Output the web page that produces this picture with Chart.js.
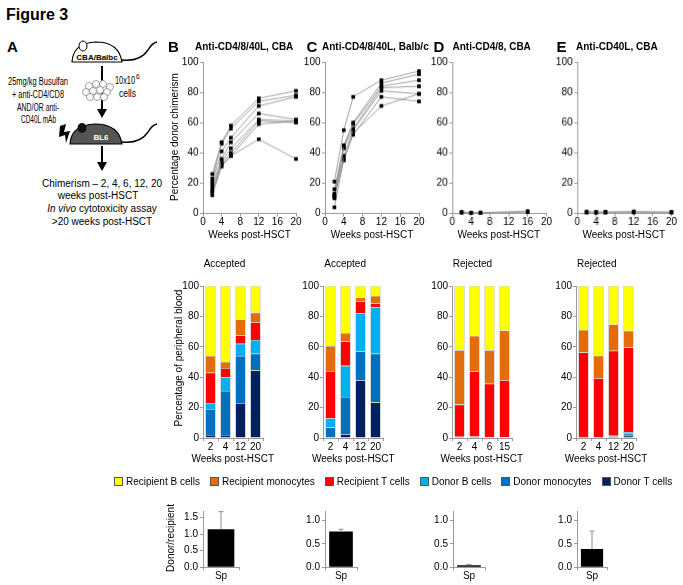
<!DOCTYPE html>
<html>
<head>
<meta charset="utf-8">
<script src="https://cdn.jsdelivr.net/npm/chart.js@4.4.1/dist/chart.umd.min.js"></script>
<style>
  body { margin: 0; width: 683px; height: 585px; background: #fff; position: relative; overflow: hidden;
         font-family: 'Liberation Sans', Arial, sans-serif; }
  .box { position: absolute; }
  .t { position: absolute; white-space: nowrap; font-size: 10px; line-height: 1; color: #000; }
  .legend { position: absolute; left: 114px; top: 476px; display: flex; gap: 10px; font-size: 10px; line-height: 12px; }
  .legend span.sw { display: inline-block; width: 7px; height: 7px; border: 1px solid #555; margin-right: 3px; vertical-align: -1px; }
</style>
</head>
<body>
<svg class="box" style="left:0;top:0" width="175" height="235" font-family="'Liberation Sans', Arial, sans-serif" font-size="10">
  <!-- donor mouse -->
  <path d="M72,62 Q73,43 96,42 Q119,42 122,62 Z" fill="#fff" stroke="#000" stroke-width="1.2"/>
  <ellipse cx="83" cy="46" rx="4" ry="5" fill="#fff" stroke="#000" stroke-width="1"/>
  <path d="M122,60 Q140,62 148,50 Q152,43 157,42" fill="none" stroke="#000" stroke-width="1.4"/>
  <text x="97" y="60" text-anchor="middle" font-size="8" font-weight="bold">CBA/Balbc</text>
  <!-- arrow 1 -->
  <line x1="102" y1="66" x2="102" y2="110" stroke="#000" stroke-width="2"/>
  <polygon points="97,109 107,109 102,118" fill="#000"/>
  <!-- cells -->
  <g fill="#fff" stroke="#888" stroke-width="0.8">
    <circle cx="89" cy="86" r="3.5"/><circle cx="96" cy="84" r="3.5"/><circle cx="103" cy="84" r="3.5"/>
    <circle cx="110" cy="87" r="3.5"/><circle cx="86" cy="92" r="3.5"/><circle cx="93" cy="91" r="3.5"/>
    <circle cx="100" cy="90" r="3.5"/><circle cx="107" cy="92" r="3.5"/><circle cx="90" cy="97" r="3.5"/>
    <circle cx="97" cy="97" r="3.5"/><circle cx="104" cy="97" r="3.5"/>
  </g>
  <text x="115" y="84" textLength="20" lengthAdjust="spacingAndGlyphs">10x10</text>
  <text x="136" y="79" font-size="6.5">6</text>
  <text x="119" y="97" textLength="17" lengthAdjust="spacingAndGlyphs">cells</text>
  <text x="8" y="85" textLength="60" lengthAdjust="spacingAndGlyphs">25mg/kg Busulfan</text>
  <text x="12" y="98" textLength="52" lengthAdjust="spacingAndGlyphs">+ anti-CD4/CD8</text>
  <text x="17" y="111" textLength="42" lengthAdjust="spacingAndGlyphs">AND/OR anti-</text>
  <text x="21" y="123" textLength="35" lengthAdjust="spacingAndGlyphs">CD40L mAb</text>
  <!-- lightning -->
  <polygon points="60,126 66,124 64,132 70,131 66,143 65,135 59,137" fill="#000"/>
  <!-- recipient mouse -->
  <path d="M70,144 Q71,125 95,124 Q119,124 122,144 Z" fill="#555" stroke="#000" stroke-width="1.2"/>
  <ellipse cx="82" cy="128" rx="4.5" ry="5" fill="#111"/>
  <path d="M122,142 Q140,144 148,132 Q152,125 157,124" fill="none" stroke="#000" stroke-width="1.4"/>
  <text x="101" y="140" text-anchor="middle" font-size="8" font-weight="bold" fill="#fff">BL6</text>
  <!-- arrow 2 -->
  <line x1="102" y1="146" x2="102" y2="163" stroke="#000" stroke-width="2"/>
  <polygon points="97,162 107,162 102,171" fill="#000"/>
  <text x="102" y="187" text-anchor="middle">Chimerism – 2, 4, 6, 12, 20</text>
  <text x="98" y="199" text-anchor="middle">weeks post-HSCT</text>
  <text x="102" y="212" text-anchor="middle"><tspan font-style="italic">In vivo</tspan> cytotoxicity assay</text>
  <text x="102" y="225" text-anchor="middle">&gt;20 weeks post-HSCT</text>
</svg>

<script>
// ---- data ----
// percentage donor chimerism, one row per mouse
const weeksB = [2, 4, 6, 12, 20];
const chimB = [
  [26, 47, 58, 76, 81],
  [23, 46, 56, 74, 78],
  [21, 41, 50, 71, 77],
  [19, 36, 47, 66, 62],
  [17, 34, 43, 62, 61],
  [15, 33, 40, 61, 60],
  [12, 31, 38, 59, 61],
  [14, 32, 38, 49, 36]
];
const weeksC = [2, 4, 6, 12, 20];
const chimC = [
  [21, 55, 77, 88, 94],
  [16, 45, 60, 86, 92],
  [13, 44, 59, 84, 88],
  [11, 43, 56, 83, 84],
  [10, 38, 55, 81, 79],
  [4, 36, 52, 77, 74],
  [12, 35, 53, 71, 79]
];
const weeksD = [2, 4, 6, 16];
const chimD = [
  [1, 0.5, 0.6, 1.5],
  [0.4, 0.3, 0.3, 0.8]
];
const weeksE = [2, 4, 6, 12, 20];
const chimE = [
  [1.2, 1, 1.1, 1.3, 1],
  [0.5, 0.4, 0.5, 0.6, 0.5]
];

// peripheral blood composition (%), rows follow cellTypes (stack bottom -> top)
const cellTypes = ['Donor T cells', 'Donor monocytes', 'Donor B cells', 'Recipient T cells', 'Recipient monocytes', 'Recipient B cells'];
const cellColors = ['#002060', '#0070c0', '#00b0f0', '#ff0000', '#e46c0a', '#ffff00'];

const timesB = ['2', '4', '12', '20'];
const compB = [
  [2, 2, 23, 44.5],
  [17, 29, 31, 11],
  [4, 9, 8, 9],
  [20, 6, 5.5, 11.5],
  [11, 4, 10.5, 6.5],
  [46, 50, 22, 17.5]
];
const timesC = ['2', '4', '12', '20'];
const compC = [
  [0, 2.5, 38, 23.5],
  [7, 24.5, 19, 32],
  [6, 20.5, 25, 30.5],
  [31, 16, 8, 2.5],
  [16.5, 5.5, 2.5, 5],
  [39.5, 31, 7.5, 6.5]
];
const timesD = ['2', '4', '6', '15'];
const compD = [
  [0.8, 1, 0.5, 0.5],
  [0, 0, 0, 0],
  [0, 0, 0, 0],
  [21.2, 42.9, 35.2, 37.5],
  [35.7, 23.2, 22, 32.8],
  [42.3, 32.9, 42.3, 29.2]
];
const timesE = ['2', '4', '12', '20'];
const compE = [
  [0, 0, 1, 1.5],
  [0, 0, 0.5, 1.3],
  [0, 0, 0, 1.1],
  [56.3, 39.3, 55.9, 55.7],
  [14.9, 14.8, 17.3, 10.9],
  [28.8, 45.9, 25.3, 29.5]
];

// donor/recipient ratio in spleen, panels B..E
const ratioLabel = ['Sp'];
const ratioMean = [1.15, 0.76, 0.04, 0.39];
const ratioSD = [0.53, 0.05, 0.02, 0.38];
const ratioMax = [1.7, 1.2, 1.2, 1.2];
const ratioTicks = [[0, 0.5, 1, 1.5], [0, 0.5, 1], [0, 0.5, 1], [0, 0.5, 1]];

// ---- setup ----
const FONT = "'Liberation Sans', Arial, sans-serif";
Chart.defaults.font.family = FONT;
Chart.defaults.font.size = 10;
Chart.defaults.color = '#000';
Chart.defaults.animation = false;
Chart.defaults.plugins.legend.display = false;
Chart.defaults.plugins.tooltip.enabled = false;

const AXIS = '#9a9a9a';

function axis(extra, tickExtra) {
  return Object.assign({
    grid: { drawOnChartArea: false, tickLength: 3, color: AXIS },
    border: { color: AXIS },
    ticks: Object.assign({ padding: 2, color: '#000', font: { size: 10 }, autoSkip: false, maxRotation: 0, minRotation: 0 }, tickExtra || {})
  }, extra);
}

// place a chart so that its plot area lands on [x0, y0, x1, y1] of the page
function mount(area, config, pad) {
  const p = Object.assign({ l: 30, t: 8, r: 10, b: 20 }, pad || {});
  const [x0, y0, x1, y1] = area;
  const wrap = document.createElement('div');
  wrap.className = 'box';
  wrap.style.left = (x0 - p.l) + 'px';
  wrap.style.top = (y0 - p.t) + 'px';
  wrap.style.width = (x1 - x0 + p.l + p.r) + 'px';
  wrap.style.height = (y1 - y0 + p.t + p.b) + 'px';
  const cv = document.createElement('canvas');
  wrap.appendChild(cv);
  document.body.appendChild(wrap);
  const o = config.options;
  o.responsive = true;
  o.maintainAspectRatio = false;
  o.layout = { autoPadding: false, padding: { top: p.t, right: p.r, left: 0, bottom: 0 } };
  o.scales.x.afterFit = s => { s.height = p.b; };
  o.scales.y.afterFit = s => { s.width = p.l; };
  return new Chart(cv, config);
}

function text(str, x, y, css) {
  const d = document.createElement('div');
  d.className = 't';
  d.textContent = str;
  d.style.left = x + 'px';
  d.style.top = y + 'px';
  Object.assign(d.style, css || {});
  document.body.appendChild(d);
  return d;
}
const center = { transform: 'translate(-50%,-50%)' };
const leftMid = { transform: 'translate(0,-50%)' };
const rot = { transform: 'translate(-50%,-50%) rotate(-90deg)' };

// ---- line charts (chimerism) ----
function lineChart(area, weeks, rows) {
  return mount(area, {
    type: 'line',
    data: {
      datasets: rows.map(r => ({
        data: weeks.map((w, i) => ({ x: w, y: r[i] })),
        borderColor: '#8c8c8c',
        borderWidth: 0.8,
        pointStyle: 'rect',
        pointRadius: 2.6,
        pointBackgroundColor: '#000',
        pointBorderColor: '#000',
        pointBorderWidth: 0,
        clip: false
      }))
    },
    options: {
      scales: {
        x: axis({ type: 'linear', min: 0, max: 20 }, { stepSize: 4, padding: 0 }),
        y: axis({ min: 0, max: 100 }, { stepSize: 20, padding: 1.5 })
      }
    }
  });
}
const lineY = [62, 212.5];
const lineAreas = [
  [203, 296],
  [325, 419],
  [452, 545.5],
  [577, 670.5]
];
const lineSets = [[weeksB, chimB], [weeksC, chimC], [weeksD, chimD], [weeksE, chimE]];
lineAreas.forEach((a, i) => {
  lineChart([a[0], lineY[0], a[1], lineY[1]], lineSets[i][0], lineSets[i][1]);
  text('Weeks post-HSCT', (a[0] + a[1]) / 2, 235, center);
});

// ---- stacked composition bars ----
function stackChart(area, labels, comp) {
  return mount(area, {
    type: 'bar',
    data: {
      labels: labels,
      datasets: comp.map((row, k) => ({
        label: cellTypes[k],
        data: row,
        backgroundColor: cellColors[k],
        borderColor: 'rgba(110,110,110,0.55)',
        borderWidth: 0.6,
        barPercentage: 0.69,
        categoryPercentage: 1
      }))
    },
    options: {
      scales: {
        x: axis({ stacked: true }, { padding: 0 }),
        y: axis({ stacked: true, min: 0, max: 100 }, { stepSize: 20, padding: 1 })
      }
    }
  });
}
const stackY = [285.7, 437.7];
const stackAreas = [
  [202.7, 262.7],
  [323.3, 383.3],
  [451.7, 511.7],
  [576, 636]
];
const stackSets = [[timesB, compB], [timesC, compC], [timesD, compD], [timesE, compE]];
const outcome = ['Accepted', 'Accepted', 'Rejected', 'Rejected'];
stackAreas.forEach((a, i) => {
  stackChart([a[0], stackY[0], a[1], stackY[1]], stackSets[i][0], stackSets[i][1]);
  text('Weeks post-HSCT', (a[0] + a[1]) / 2, 459, center);
  text(outcome[i], a[0] + 1, 263.5, leftMid);
});

// ---- donor/recipient ratio bars ----
const errorBars = {
  id: 'errorBars',
  afterDatasetsDraw(chart, args, opts) {
    const ctx = chart.ctx;
    const y = chart.scales.y;
    const ds = chart.data.datasets[0];
    ctx.save();
    ctx.strokeStyle = '#8c8c8c';
    ctx.lineWidth = 1;
    chart.getDatasetMeta(0).data.forEach((bar, i) => {
      const top = y.getPixelForValue(ds.data[i] + opts.sd[i]);
      ctx.beginPath();
      ctx.moveTo(bar.x, bar.y);
      ctx.lineTo(bar.x, top);
      ctx.moveTo(bar.x - 2.5, top);
      ctx.lineTo(bar.x + 2.5, top);
      ctx.stroke();
    });
    ctx.restore();
  }
};
const ratioY = [510.5, 566.7];
const ratioAreas = [
  [203, 239],
  [325, 357],
  [453, 485],
  [577, 607]
];
ratioAreas.forEach((a, i) => {
  mount([a[0], ratioY[0], a[1], ratioY[1]], {
    type: 'bar',
    data: {
      labels: ratioLabel,
      datasets: [{ data: [ratioMean[i]], backgroundColor: '#000', barPercentage: 0.74, categoryPercentage: 1 }]
    },
    options: {
      plugins: { errorBars: { sd: [ratioSD[i]] } },
      scales: {
        x: axis({}, { padding: 0 }),
        y: axis({
          min: 0, max: ratioMax[i],
          afterBuildTicks: s => { s.ticks = ratioTicks[i].map(v => ({ value: v })); }
        }, { padding: 2, callback: v => Number(v).toFixed(1) })
      }
    },
    plugins: [errorBars]
  });
});

// ---- titles, letters, axis titles ----
text('Figure 3', 6, 15, Object.assign({ fontSize: '16px', fontWeight: 'bold' }, leftMid));
const letters = [['A', 7], ['B', 168], ['C', 306.5], ['D', 433.5], ['E', 556.5]];
letters.forEach(([l, x]) => text(l, x, 46, Object.assign({ fontSize: '15px', fontWeight: 'bold' }, leftMid)));
const panelTitles = [['Anti-CD4/8/40L, CBA', 195], ['Anti-CD4/8/40L, Balb/c', 322], ['Anti-CD4/8, CBA', 452.5], ['Anti-CD40L, CBA', 576]];
panelTitles.forEach(([s, x]) => text(s, x, 46.5, Object.assign({ fontWeight: 'bold' }, leftMid)));
text('Percentage donor chimerism', 175, 137, rot);
text('Percentage of peripheral blood', 179, 358, rot);
text('Donor/recipient', 170.5, 538, rot);

// ---- legend ----
const legend = document.createElement('div');
legend.className = 'legend';
for (let k = cellTypes.length - 1; k >= 0; k--) {
  const item = document.createElement('div');
  const sw = document.createElement('span');
  sw.className = 'sw';
  sw.style.background = cellColors[k];
  item.appendChild(sw);
  item.appendChild(document.createTextNode(cellTypes[k]));
  legend.appendChild(item);
}
document.body.appendChild(legend);
</script>
</body>
</html>
